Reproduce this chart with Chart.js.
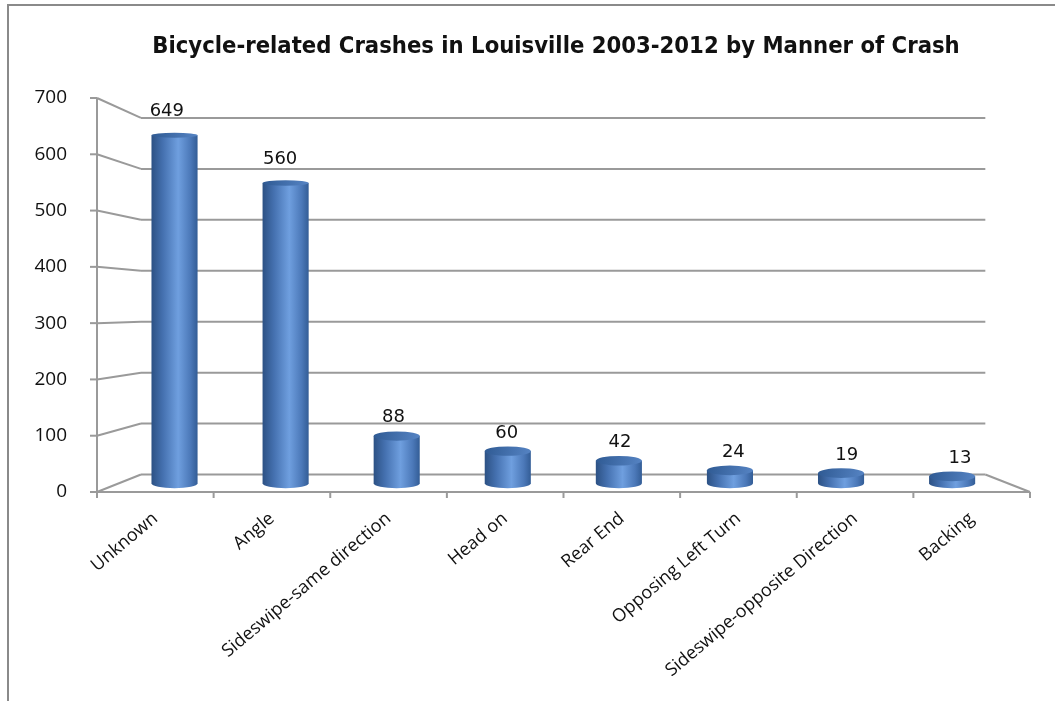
<!DOCTYPE html>
<html>
<head>
<meta charset="utf-8">
<title>Bicycle-related Crashes in Louisville 2003-2012</title>
<script src="https://cdn.jsdelivr.net/npm/chart.js@4.4.1/dist/chart.umd.min.js"></script>
<style>
    html, body { margin: 0; padding: 0; background: #ffffff; }
    #wrap { width: 1055px; height: 701px; position: relative; }
</style>
</head>
<body>
<div id="wrap"><canvas id="graficoColisoes" width="1055" height="701"></canvas></div>
<script>
// Dados: colisões com bicicletas por tipo
const categorias = ['Unknown', 'Angle', 'Sideswipe-same direction', 'Head on', 'Rear End',
    'Opposing Left Turn', 'Sideswipe-opposite Direction', 'Backing'];
const totalColisoes = [649, 560, 88, 60, 42, 24, 19, 13];
const yMax = 700;
const yPasso = 100;
const titulo = 'Bicycle-related Crashes in Louisville 2003-2012 by Manner of Crash';

// Perspectiva: ponto de fuga relativo à área do gráfico e escala da parede do fundo
const PF_X = 0.496, PF_Y = 0.533;
const ESCALA_FUNDO = 0.905;
const ESCALA_BARRA = 0.9525;
const ESCALA_ROTULO = 0.9715;
const COR_LINHA = '#9a9a9a';

function projetar(area, x, y, s) {
    const vx = area.left + PF_X * (area.right - area.left);
    const vy = area.top + PF_Y * (area.bottom - area.top);
    return [vx + s * (x - vx), vy + s * (y - vy)];
}

function linha(ctx, x1, y1, x2, y2) {
    ctx.beginPath();
    ctx.moveTo(x1, y1);
    ctx.lineTo(x2, y2);
    ctx.stroke();
}

// Paredes, piso e eixos em 3D
const pluginParedes = {
    id: 'paredes',
    beforeDatasetsDraw(chart) {
        const { ctx, chartArea: a, scales } = chart;
        const y = scales.y;
        ctx.save();
        ctx.strokeStyle = COR_LINHA;
        ctx.lineWidth = 2;

        const fundoDir = projetar(a, a.right, a.bottom, ESCALA_FUNDO)[0];
        for (let v = 0; v <= yMax; v += yPasso) {
            const yf = y.getPixelForValue(v);
            const [bx, by] = projetar(a, a.left, yf, ESCALA_FUNDO);
            linha(ctx, a.left - 7, yf, a.left, yf);
            linha(ctx, a.left, yf, bx, by);
            linha(ctx, bx, by, fundoDir, by);
        }
        // eixo vertical frontal
        linha(ctx, a.left, a.top, a.left, a.bottom);
        // borda frontal e lateral direita do piso
        linha(ctx, a.left, a.bottom, a.right, a.bottom);
        const [rx, ry] = projetar(a, a.right, a.bottom, ESCALA_FUNDO);
        linha(ctx, rx, ry, a.right, a.bottom);
        // marcas das categorias
        const passo = (a.right - a.left) / categorias.length;
        for (let i = 0; i <= categorias.length; i++) {
            const x = a.left + i * passo;
            linha(ctx, x, a.bottom, x, a.bottom + 6);
        }
        ctx.restore();
    },
    afterDatasetsDraw(chart) {
        const { ctx, chartArea: a } = chart;
        const meta = chart.getDatasetMeta(0);
        ctx.save();
        meta.data.forEach((bar, i) => {
            const [cx, yTopo] = projetar(a, bar.x, bar.y, ESCALA_BARRA);
            const yBase = projetar(a, bar.x, bar.base, ESCALA_BARRA)[1];
            const r = bar.width * ESCALA_BARRA / 2;
            const altura = a.bottom - a.top;
            const ryTopo = 2.2 + 2.8 * (yTopo - a.top) / altura;
            const ryBase = 2.2 + 2.8 * (yBase - a.top) / altura;
            desenharCilindro(ctx, cx, yTopo, yBase, r, ryTopo, ryBase);

            // rótulo de valor
            const [lx, ly] = projetar(a, bar.x, bar.y, ESCALA_ROTULO);
            ctx.fillStyle = '#111111';
            ctx.font = '18px "DejaVu Sans", sans-serif';
            ctx.textAlign = 'center';
            ctx.textBaseline = 'middle';
            ctx.fillText(String(totalColisoes[i]), lx, ly - 21);
        });
        ctx.restore();
    },
    afterDraw(chart) {
        const { ctx } = chart;
        ctx.save();
        // moldura
        ctx.strokeStyle = '#8a8a8a';
        ctx.lineWidth = 2;
        ctx.beginPath();
        ctx.moveTo(8, 701);
        ctx.lineTo(8, 5);
        ctx.lineTo(1055, 5);
        ctx.stroke();
        // título
        ctx.fillStyle = '#111111';
        ctx.font = 'bold 23.6px "Liberation Sans Narrow", "DejaVu Sans Condensed", sans-serif';
        ctx.textAlign = 'center';
        ctx.textBaseline = 'alphabetic';
        ctx.fillText(titulo, 556, 53);
        ctx.restore();
    }
};

function desenharCilindro(ctx, cx, yTopo, yBase, r, ryTopo, ryBase) {
    const grad = ctx.createLinearGradient(cx - r, 0, cx + r, 0);
    grad.addColorStop(0, '#2c5184');
    grad.addColorStop(0.25, '#4571b0');
    grad.addColorStop(0.58, '#6f9fdf');
    grad.addColorStop(0.85, '#4b78b8');
    grad.addColorStop(1, '#335d96');

    ctx.beginPath();
    ctx.moveTo(cx - r, yTopo);
    ctx.lineTo(cx - r, yBase);
    ctx.ellipse(cx, yBase, r, ryBase, 0, Math.PI, 0, true);
    ctx.lineTo(cx + r, yTopo);
    ctx.closePath();
    ctx.fillStyle = grad;
    ctx.fill();

    const gradTopo = ctx.createLinearGradient(cx - r, yTopo - ryTopo, cx + r, yTopo + ryTopo);
    gradTopo.addColorStop(0, '#2f5a93');
    gradTopo.addColorStop(1, '#5684c4');
    ctx.beginPath();
    ctx.ellipse(cx, yTopo, r, ryTopo, 0, 0, Math.PI * 2);
    ctx.fillStyle = gradTopo;
    ctx.fill();
}

new Chart(document.getElementById('graficoColisoes'), {
    type: 'bar',
    data: {
        labels: categorias,
        datasets: [{
            label: 'Crashes',
            data: totalColisoes,
            backgroundColor: 'rgba(0, 0, 0, 0)',
            borderWidth: 0,
            categoryPercentage: 1,
            barPercentage: 0.415
        }]
    },
    options: {
        responsive: false,
        animation: false,
        layout: {
            padding: { top: 98, right: 25, left: 0, bottom: 0 }
        },
        plugins: {
            legend: { display: false },
            title: { display: false },
            tooltip: { enabled: false }
        },
        scales: {
            y: {
                min: 0,
                max: yMax,
                ticks: {
                    stepSize: yPasso,
                    padding: 30,
                    color: '#111111',
                    font: { family: '"Open Sans", sans-serif', size: 19 }
                },
                grid: { display: false, drawTicks: false },
                border: { display: false },
                afterFit(scale) { scale.width = 97; }
            },
            x: {
                ticks: {
                    minRotation: 40,
                    maxRotation: 40,
                    autoSkip: false,
                    padding: 16,
                    color: '#111111',
                    font: { family: '"Open Sans", sans-serif', size: 18 }
                },
                grid: { display: false, drawTicks: false },
                border: { display: false },
                afterFit(scale) { scale.height = 209; }
            }
        }
    },
    plugins: [pluginParedes]
});
</script>
</body>
</html>
